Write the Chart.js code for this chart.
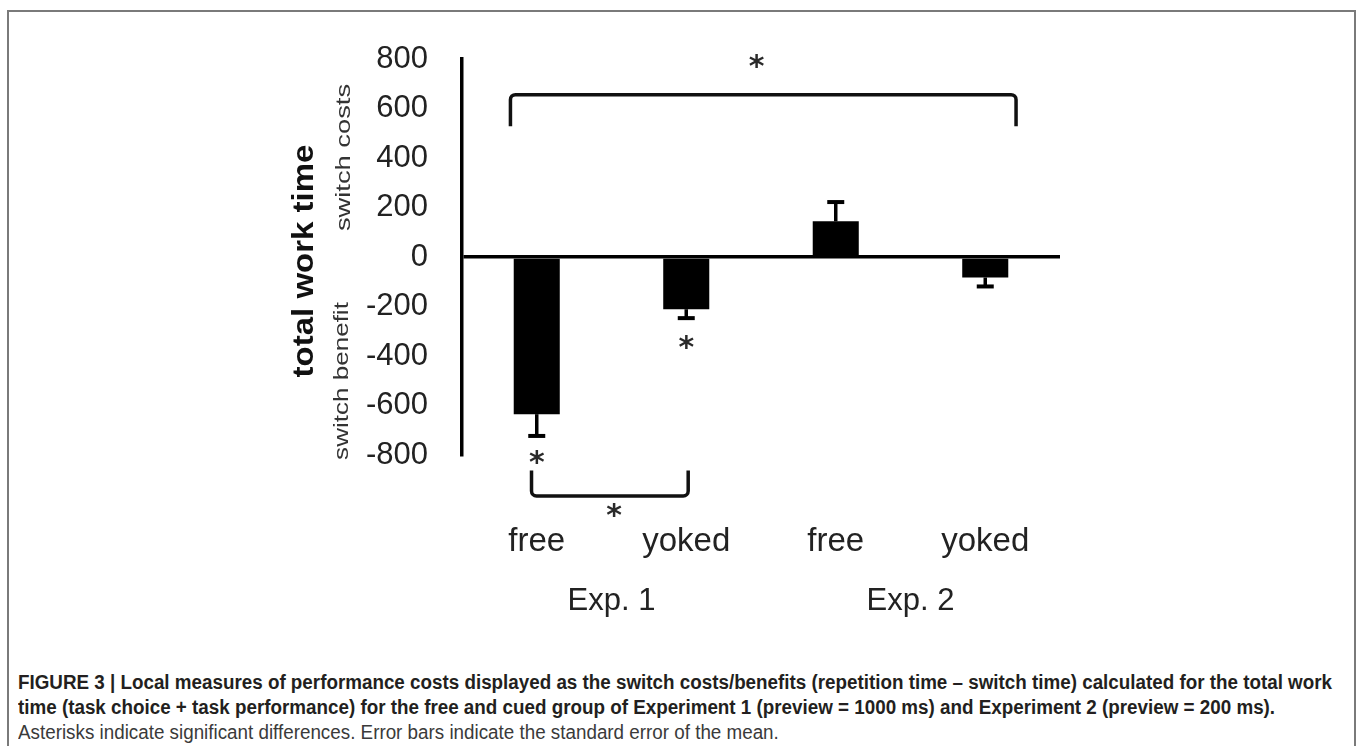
<!DOCTYPE html>
<html>
<head>
  <title>Total work time - switch costs</title>
  <script src="https://cdn.jsdelivr.net/npm/chart.js"></script>
  <style>
    body {
      margin: 0;
      width: 1357px;
      height: 746px;
      overflow: hidden;
      position: relative;
      background: #fff;
      font-family: 'Liberation Sans', Arial, sans-serif;
    }
    .frame {
      position: absolute;
      left: 7px;
      top: 10px;
      width: 1349px;
      height: 780px;
      border: 2px solid #7a7a7a;
      border-bottom: none;
      box-sizing: border-box;
    }
    .chart-container {
      position: absolute;
      left: 0;
      top: 0;
      width: 1357px;
      height: 650px;
    }
    .caption {
      position: absolute;
      left: 18px;
      top: 670px;
      font-family: 'Liberation Sans', Arial, sans-serif;
      font-size: 19.5px;
      line-height: 25px;
      color: #231f20;
      white-space: nowrap;
    }
    .caption div { transform-origin: 0 50%; width: max-content; }
    .caption .b { font-weight: bold; }
    .caption .n { color: #3a3a3a; }
  </style>
</head>
<body>
  <div class="frame"></div>
  <div class="chart-container">
    <canvas id="switchChart"></canvas>
  </div>
  <div class="caption">
    <div class="b" id="capFirst">FIGURE 3 | Local measures of performance costs displayed as the switch costs/benefits (repetition time – switch time) calculated for the total work</div>
    <div class="b">time (task choice + task performance) for the free and cued group of Experiment 1 (preview = 1000 ms) and Experiment 2 (preview = 200 ms).</div>
    <div class="n">Asterisks indicate significant differences. Error bars indicate the standard error of the mean.</div>
  </div>

  <script>
    const categories = ['free', 'yoked', 'free', 'yoked'];
    const experiments = ['Exp. 1', 'Exp. 2'];
    const switchCost = [-635, -211, 144, -83];
    const stdError = [88, 36, 78, 36];
    const yMin = -800;
    const yMax = 800;
    const yStep = 200;

    // significance asterisks: [category position, value]
    const starMarks = [[1.47, 802], [0, -798], [1, -333], [0.517, -1015]];
    // brackets: [from category, to category, value of bar, value of ends]
    const brackets = [[-0.176, 3.206, 656, 528], [-0.035, 1.013, -966, -863]];

    const FONT = "'Liberation Sans', Arial, sans-serif";

    // condensed caption: squeeze the lines so the first one fits the frame
    const capFirst = document.getElementById('capFirst');
    const squeeze = 1314 / capFirst.getBoundingClientRect().width;
    document.querySelectorAll('.caption div').forEach((d) => {
      d.style.transform = 'scaleX(' + squeeze + ')';
    });

    function rotatedText(ctx, text, x, y, font, color, stretch) {
      ctx.save();
      ctx.translate(x, y);
      ctx.rotate(-Math.PI / 2);
      ctx.scale(stretch, 1);
      ctx.font = font;
      ctx.fillStyle = color;
      ctx.textAlign = 'center';
      ctx.textBaseline = 'alphabetic';
      ctx.fillText(text, 0, 0);
      ctx.restore();
    }

    const extras = {
      id: 'extras',
      afterDatasetsDraw(chart) {
        const ctx = chart.ctx;
        const ys = chart.scales.y;

        // error bars
        ctx.save();
        ctx.strokeStyle = '#000';
        chart.getDatasetMeta(0).data.forEach((bar, i) => {
          const v = switchCost[i];
          const end = ys.getPixelForValue(v + Math.sign(v) * stdError[i]);
          ctx.lineWidth = 3.5;
          ctx.beginPath();
          ctx.moveTo(bar.x, bar.y);
          ctx.lineTo(bar.x, end);
          ctx.stroke();
          ctx.lineWidth = 4;
          ctx.beginPath();
          ctx.moveTo(bar.x - 8.5, end);
          ctx.lineTo(bar.x + 8.5, end);
          ctx.stroke();
        });
        ctx.restore();
      },
      afterDraw(chart) {
        const ctx = chart.ctx;
        const xs = chart.scales.x;
        const ys = chart.scales.y;

        // brackets
        ctx.save();
        ctx.strokeStyle = '#111';
        ctx.lineWidth = 3.5;
        ctx.lineJoin = 'round';
        brackets.forEach(([a, b, v, e]) => {
          const x1 = xs.getPixelForValue(a);
          const x2 = xs.getPixelForValue(b);
          const yb = ys.getPixelForValue(v);
          const ye = ys.getPixelForValue(e);
          ctx.beginPath();
          ctx.moveTo(x1, ye);
          ctx.arcTo(x1, yb, x2, yb, 5);
          ctx.arcTo(x2, yb, x2, ye, 5);
          ctx.lineTo(x2, ye);
          ctx.stroke();
        });
        ctx.restore();

        // asterisks
        ctx.save();
        ctx.fillStyle = '#2a2a2a';
        ctx.font = "bold 30px 'DejaVu Sans', sans-serif";
        ctx.textAlign = 'center';
        ctx.textBaseline = 'alphabetic';
        starMarks.forEach(([c, v]) => {
          ctx.fillText('*', xs.getPixelForValue(c), ys.getPixelForValue(v) + 0.57 * 30);
        });
        ctx.restore();

        // axis titles
        rotatedText(ctx, 'total work time', 313, 261, 'bold 30px ' + FONT, '#111', 1.1);
        rotatedText(ctx, 'switch costs', 350, 157.5, '21px ' + FONT, '#333', 1.3);
        rotatedText(ctx, 'switch benefit', 348, 381, '21px ' + FONT, '#333', 1.24);
      }
    };

    const ctx = document.getElementById('switchChart').getContext('2d');
    const chart = new Chart(ctx, {
      type: 'bar',
      data: {
        labels: categories,
        datasets: [{
          label: 'switch costs',
          data: switchCost,
          backgroundColor: '#000',
          borderWidth: 0,
          barPercentage: 0.308,
          categoryPercentage: 1,
        }],
      },
      options: {
        responsive: true,
        maintainAspectRatio: false,
        animation: false,
        layout: {
          padding: { left: 0, top: 59, right: 297, bottom: 25 },
        },
        plugins: {
          legend: { display: false },
          tooltip: { enabled: false },
        },
        scales: {
          x: {
            type: 'category',
            position: 'bottom',
            weight: 0,
            offset: true,
            grid: { display: false },
            border: { display: false },
            ticks: {
              color: '#222',
              font: { family: FONT, size: 33 },
              padding: 59.5,
              maxRotation: 0,
              autoSkip: false,
            },
            afterFit(s) { s.height = 115; },
          },
          x2: {
            type: 'category',
            position: 'bottom',
            weight: 1,
            offset: true,
            labels: experiments,
            grid: { display: false },
            border: { display: false },
            ticks: {
              color: '#222',
              font: { family: FONT, size: 31 },
              padding: 5,
              maxRotation: 0,
              autoSkip: false,
            },
            afterFit(s) { s.height = 55; },
          },
          y: {
            min: yMin,
            max: yMax,
            ticks: {
              stepSize: yStep,
              padding: 34,
              color: '#222',
              font: { family: FONT, size: 31 },
            },
            grid: {
              drawTicks: false,
              color: (c) => (c.tick && c.tick.value === 0 ? '#000' : 'rgba(0,0,0,0)'),
              lineWidth: 3.5,
            },
            border: { display: true, color: '#000', width: 3.5 },
            afterFit(s) { s.width = 462; },
          },
        },
      },
      plugins: [extras],
    });
  </script>
</body>
</html>
